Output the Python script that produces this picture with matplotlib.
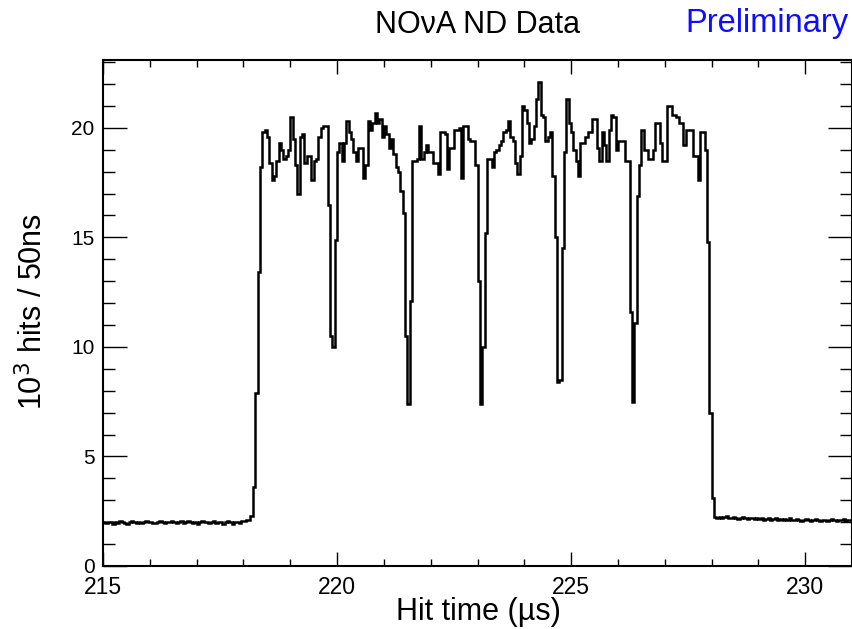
import numpy as np
import matplotlib
matplotlib.use("Agg")
import matplotlib.pyplot as plt
from matplotlib.ticker import MultipleLocator

# ---- data: hits per 50 ns bin (in units of 10^3), bins from 215 to 231 us ----
x_min, x_max = 215.0, 231.0
bin_width = 0.05
counts = [
    2.00, 1.95, 2.00, 2.00, 1.90, 2.00, 1.95, 2.05, 2.00, 1.95,   # 0
    1.90, 2.00, 2.05, 2.00, 1.95, 2.00, 1.95, 2.00, 2.05, 2.00,   # 10
    2.00, 1.95, 1.95, 2.00, 2.05, 2.00, 1.95, 2.00, 2.00, 2.05,   # 20
    2.00, 1.95, 2.00, 2.05, 1.95, 2.00, 2.05, 2.00, 1.95, 2.00,   # 30
    1.90, 2.00, 2.05, 2.00, 2.00, 1.95, 2.00, 2.05, 1.95, 2.00,   # 40
    2.00, 1.90, 2.00, 2.05, 2.00, 1.90, 2.00, 2.00, 1.95, 2.05,   # 50
    2.05, 2.10, 2.10, 2.30, 3.60, 7.90, 13.40, 18.20, 19.80, 19.90,   # 60
    19.60, 18.40, 17.60, 17.80, 18.50, 19.30, 19.00, 18.60, 18.70, 19.00,   # 70
    20.50, 19.50, 18.30, 17.00, 19.60, 19.70, 18.40, 18.70, 18.70, 17.60,   # 80
    18.50, 18.60, 19.60, 20.00, 20.10, 20.10, 16.50, 10.50, 10.00, 14.90,   # 90
    18.90, 19.30, 18.50, 19.30, 20.30, 19.80, 19.50, 18.90, 18.50, 19.10,   # 100
    19.10, 17.70, 18.30, 20.30, 19.90, 20.20, 20.70, 20.20, 20.40, 19.60,   # 110
    20.10, 19.70, 19.10, 19.50, 18.80, 18.20, 18.00, 17.10, 16.10, 10.50,   # 120
    7.40, 12.10, 18.50, 18.50, 18.60, 20.10, 18.60, 18.90, 19.20, 18.90,   # 130
    18.90, 18.40, 18.40, 17.90, 19.80, 19.80, 19.70, 18.10, 19.10, 19.10,   # 140
    19.90, 19.90, 20.00, 17.70, 20.10, 20.10, 19.50, 19.40, 19.40, 18.30,   # 150
    13.00, 7.40, 10.00, 15.20, 18.60, 18.60, 18.20, 18.90, 19.00, 19.20,   # 160
    19.40, 19.80, 19.90, 20.30, 19.60, 19.40, 18.40, 17.90, 18.70, 21.00,   # 170
    20.80, 20.20, 19.30, 19.50, 20.10, 21.30, 22.10, 20.60, 20.50, 19.40,   # 180
    19.60, 19.80, 17.80, 15.00, 8.40, 8.50, 14.50, 18.90, 21.30, 20.20,   # 190
    19.80, 19.00, 18.50, 17.80, 19.30, 19.30, 19.60, 19.80, 19.80, 20.40,   # 200
    20.40, 19.10, 18.50, 19.80, 19.20, 18.50, 19.90, 20.60, 20.50, 19.00,   # 210
    19.40, 19.40, 19.40, 18.50, 18.50, 11.60, 7.50, 11.10, 16.90, 18.30,   # 220
    19.90, 19.00, 19.00, 18.60, 18.60, 19.00, 20.20, 20.20, 19.30, 18.50,   # 230
    18.50, 21.00, 21.00, 20.60, 20.60, 20.50, 20.20, 20.20, 19.20, 19.90,   # 240
    19.90, 19.90, 18.70, 18.70, 17.60, 19.80, 19.80, 19.00, 14.80, 7.00,   # 250
    3.10, 2.25, 2.20, 2.25, 2.20, 2.25, 2.30, 2.20, 2.20, 2.25,   # 260
    2.20, 2.15, 2.20, 2.25, 2.20, 2.15, 2.20, 2.20, 2.15, 2.20,   # 270
    2.15, 2.20, 2.10, 2.15, 2.20, 2.10, 2.15, 2.20, 2.10, 2.15,   # 280
    2.10, 2.15, 2.10, 2.20, 2.10, 2.10, 2.15, 2.10, 2.05, 2.10,   # 290
    2.15, 2.10, 2.05, 2.10, 2.15, 2.10, 2.05, 2.10, 2.10, 2.05,   # 300
    2.10, 2.15, 2.10, 2.05, 2.10, 2.10, 2.15, 2.05, 2.10, 2.10,   # 310
]
x_ticks = [215, 220, 225, 230]
y_ticks = [0, 5, 10, 15, 20]
y_max = 23.1

plt.rcParams['font.family'] = ['Liberation Sans', 'DejaVu Sans']

fig = plt.figure(figsize=(8.53, 6.29), dpi=100)
ax = fig.add_axes([0.1208, 0.1002, 0.8780, 0.8045])

edges = x_min + bin_width * np.arange(len(counts) + 1)
ax.stairs(counts, edges, color='black', lw=1.8, baseline=None)

ax.set_xlim(x_min, x_max)
ax.set_ylim(0, y_max)
ax.set_xticks(x_ticks)
ax.set_yticks(y_ticks)
ax.xaxis.set_minor_locator(MultipleLocator(1))
ax.yaxis.set_minor_locator(MultipleLocator(1))
ax.tick_params(which='both', direction='in', top=True, right=True,
               width=1.0, colors='black')
ax.tick_params(axis='x', which='major', length=10, pad=7, labelsize=16.5)
ax.tick_params(axis='x', which='minor', length=4.7)
ax.tick_params(axis='y', which='major', length=17, pad=6, labelsize=15)
ax.tick_params(axis='y', which='minor', length=8.6)
for sp in ax.spines.values():
    sp.set_linewidth(1.5)

fig.text(0.5604, 0.0143, 'Hit time (\u00b5s)', ha='center', va='baseline', fontsize=22)
fig.text(0.039, 0.505, '10$^{3}$ hits / 50ns', ha='center', va='center',
         rotation=90, fontsize=22)
fig.text(0.5598, 0.960, 'NO\u03bdA ND Data', ha='center', va='center', fontsize=22)
fig.text(0.8986, 0.962, 'Preliminary', ha='center', va='center', fontsize=23.5,
         color=(0.05, 0.05, 1.0))

fig.savefig('out.png', dpi=100)
